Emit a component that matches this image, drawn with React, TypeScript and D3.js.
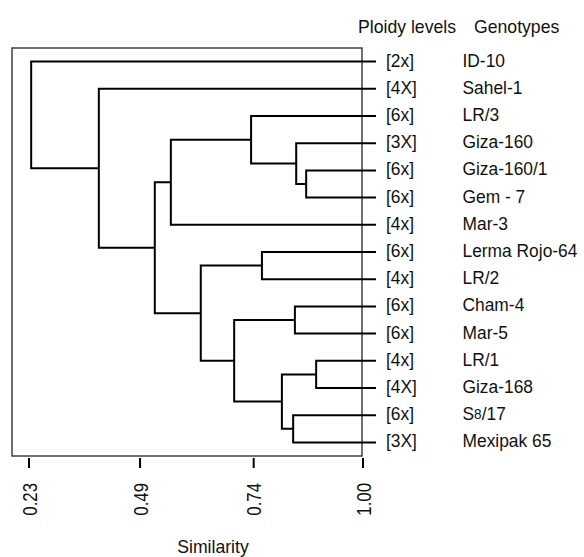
import React from 'react';
import * as d3 from 'd3';

// Leaves (top to bottom)
const genotypes = [
  'ID-10', 'Sahel-1', 'LR/3', 'Giza-160', 'Giza-160/1', 'Gem - 7', 'Mar-3',
  'Lerma Rojo-64', 'LR/2', 'Cham-4', 'Mar-5', 'LR/1', 'Giza-168', 'S8/17', 'Mexipak 65',
];
const ploidyLevels = [
  '[2x]', '[4X]', '[6x]', '[3X]', '[6x]', '[6x]', '[4x]',
  '[6x]', '[4x]', '[6x]', '[6x]', '[4x]', '[4X]', '[6x]', '[3X]',
];

// Merge table (hclust style): negative = leaf (1-based), positive = earlier merge (1-based)
const mergeLeft = [-5, -4, -3, 3, -8, -10, -12, -14, 7, 6, 5, 4, -2, -1];
const mergeRight = [-6, 1, 2, -7, -9, -11, -13, -15, 8, 9, 10, 11, 12, 13];
const mergeSimilarity = [0.869, 0.846, 0.742, 0.557, 0.767, 0.843, 0.892, 0.839, 0.813, 0.703, 0.626, 0.52, 0.391, 0.235];

// Axis
const tickValues = [0.23, 0.486, 0.748, 1.0];
const tickLabels = ['0.23', '0.49', '0.74', '1.00'];

const FONT = "'Liberation Sans', Arial, sans-serif";

function Label({ text }: { text: string }) {
  const m = text.match(/^([A-Z])(\d)(\/.*)$/);
  if (m) {
    return (
      <>
        {m[1]}
        <tspan fontSize="0.78em" dy={-1}>{m[2]}</tspan>
        <tspan dy={1}>{m[3]}</tspan>
      </>
    );
  }
  return <>{text}</>;
}

export default function App() {
  const W = 584;
  const H = 557;
  const box = { left: 12, top: 48, right: 362, bottom: 456 };
  const xScale = d3.scaleLinear().domain([0.23, 1.0]).range([29, 363]);
  const yScale = d3
    .scaleBand<string>()
    .domain(genotypes.map((_, i) => String(i)))
    .range([box.top, box.bottom])
    .padding(0);
  const rowY = (i: number) => (yScale(String(i)) as number) + yScale.bandwidth() / 2;
  const leafEnd = xScale(1.0) + 13;

  const nodes: { x: number; y: number }[] = [];
  const child = (c: number) => (c < 0 ? { x: leafEnd, y: rowY(-c - 1) } : nodes[c - 1]);
  const paths = mergeLeft.map((l, i) => {
    const A = child(l);
    const B = child(mergeRight[i]);
    const x = xScale(mergeSimilarity[i]);
    nodes.push({ x, y: (A.y + B.y) / 2 });
    const p = d3.path();
    p.moveTo(A.x, A.y);
    p.lineTo(x, A.y);
    p.lineTo(x, B.y);
    p.lineTo(B.x, B.y);
    return p.toString();
  });

  const ploidyX = 386;
  const genoX = 462.5;
  const sx = 0.94;

  return (
    <svg
      width={W}
      height={H}
      style={{ position: 'absolute', left: 0, top: 0, background: '#fff' }}
      fontFamily={FONT}
    >
      <rect x={0} y={0} width={W} height={H} fill="#fff" />
      <rect
        x={box.left}
        y={box.top}
        width={box.right - box.left}
        height={box.bottom - box.top}
        fill="none"
        stroke="#333"
        strokeWidth={1.4}
      />
      {paths.map((d, i) => (
        <path key={i} d={d} fill="none" stroke="#000" strokeWidth={2} strokeLinejoin="miter" />
      ))}

      {/* header */}
      <text transform={`translate(358,32.5) scale(0.98,1)`} fontSize={18} fill="#111">
        Ploidy levels
      </text>
      <text transform={`translate(474,32.5) scale(0.98,1)`} fontSize={18} fill="#111">
        Genotypes
      </text>

      {/* leaf labels */}
      {genotypes.map((g, i) => (
        <g key={g}>
          <text transform={`translate(${ploidyX},${rowY(i) + 5}) scale(${sx},1)`} fontSize={18.5} fill="#111">
            {ploidyLevels[i]}
          </text>
          <text transform={`translate(${genoX},${rowY(i) + 5}) scale(${sx},1)`} fontSize={18.5} fill="#111">
            <Label text={g} />
          </text>
        </g>
      ))}

      {/* axis */}
      {tickValues.map((v, i) => (
        <g key={v}>
          <line x1={xScale(v)} x2={xScale(v)} y1={458} y2={468} stroke="#000" strokeWidth={2} />
          <text
            transform={`translate(${xScale(v) + 7.5},483) rotate(-90) scale(0.8,1)`}
            textAnchor="end"
            fontSize={21}
            fill="#111"
          >
            {tickLabels[i]}
          </text>
        </g>
      ))}
      <text transform={`translate(213,553) scale(0.98,1)`} textAnchor="middle" fontSize={18} fill="#111">
        Similarity
      </text>
    </svg>
  );
}
